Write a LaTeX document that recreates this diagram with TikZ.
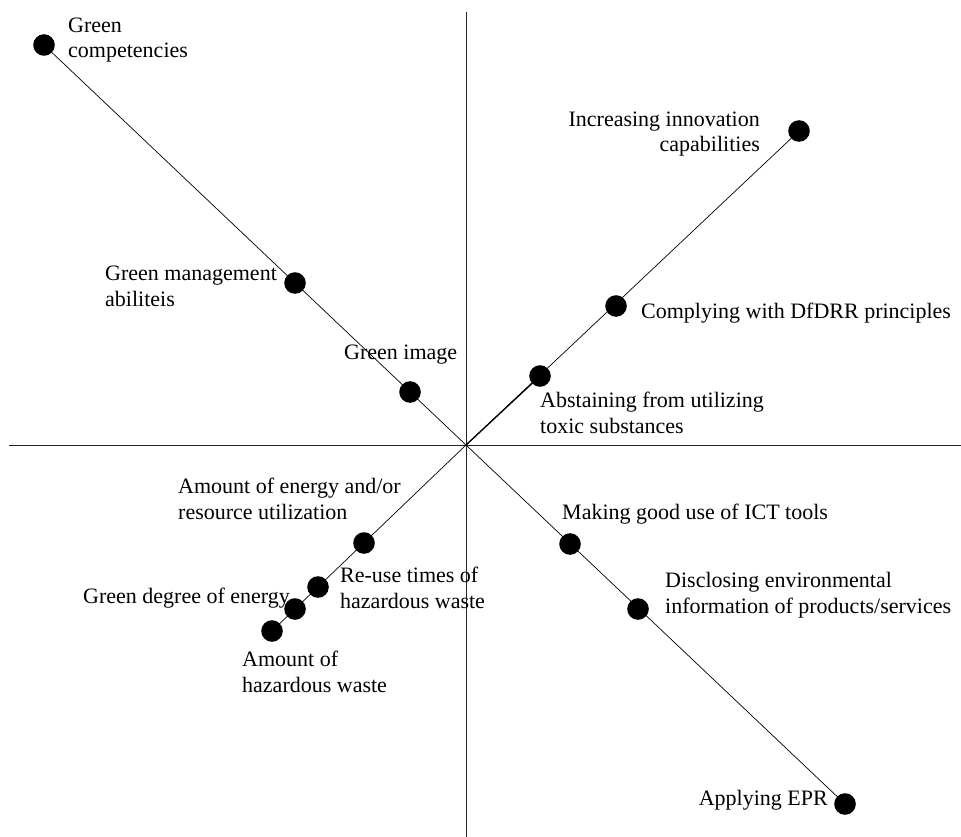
\documentclass[tikz,border=0pt]{standalone}
\usepackage{fontspec}
\setmainfont{Liberation Serif}
\begin{document}
\begin{tikzpicture}[x=1pt,y=-1pt,
  dot/.style={circle,fill=black,inner sep=0pt,minimum size=21.6pt},
  lbl/.style={font=\fontsize{22}{25.5}\selectfont,inner sep=0pt,align=left,anchor=base west},
  lblr/.style={font=\fontsize{22}{25.5}\selectfont,inner sep=0pt,align=right,anchor=base east},
  axis/.style={line width=1pt,black!85},
  diag/.style={line width=0.7pt,black}]
\useasboundingbox (0,0) rectangle (961,837);
% axes
\coordinate (vt) at (466,12);
\coordinate (vb) at (466,837);
\coordinate (hl) at (9,445);
\coordinate (hr) at (961,445);
\coordinate (o) at (466,445);
\draw[axis] (vt) -- (vb);
\draw[axis] (hl) -- (hr);
% dots
\node[dot] (gc) at (44,45) {};
\node[dot] (gm) at (295,283) {};
\node[dot] (gi) at (410,392) {};
\node[dot] (ii) at (799,131) {};
\node[dot] (cd) at (616,306) {};
\node[dot] (ab) at (540,376) {};
\node[dot] (ae) at (364,543) {};
\node[dot] (ru) at (318,587) {};
\node[dot] (gd) at (295,609) {};
\node[dot] (ah) at (272,631) {};
\node[dot] (ict) at (570,544) {};
\node[dot] (dis) at (638,609) {};
\node[dot] (epr) at (845,804) {};
% diagonals
\draw[diag] (gc.center) -- (o) -- (epr.center);
\draw[diag] (ii.center) -- (o) -- (ah.center);
\draw[line width=1.3pt] (o) -- (ab.center);
% labels (multi-line: anchor at last line baseline)
\node[lbl] (tgc) at (68,58) {Green\\competencies};
\node[lbl] (tgm) at (105,306) {Green management\\abiliteis};
\node[lbl] (tgi) at (344,359) {Green image};
\node[lblr] (tii) at (760,152) {Increasing innovation\\capabilities};
\node[lbl] (tcd) at (641,318) {Complying with DfDRR principles};
\node[lbl] (tab) at (540,433) {Abstaining from utilizing\\toxic substances};
\node[lbl] (tae) at (178,519) {Amount of energy and/or\\resource utilization};
\node[lbl] (tru) at (340,608) {Re-use times of\\hazardous waste};
\node[lbl] (tgd) at (83,603) {Green degree of energy};
\node[lbl] (tah) at (242,692) {Amount of\\hazardous waste};
\node[lbl] (tict) at (562,519) {Making good use of ICT tools};
\node[lbl] (tdis) at (665,613) {Disclosing environmental\\information of products/services};
\node[lblr] (tepr) at (828,805) {Applying EPR};
\end{tikzpicture}
\end{document}
